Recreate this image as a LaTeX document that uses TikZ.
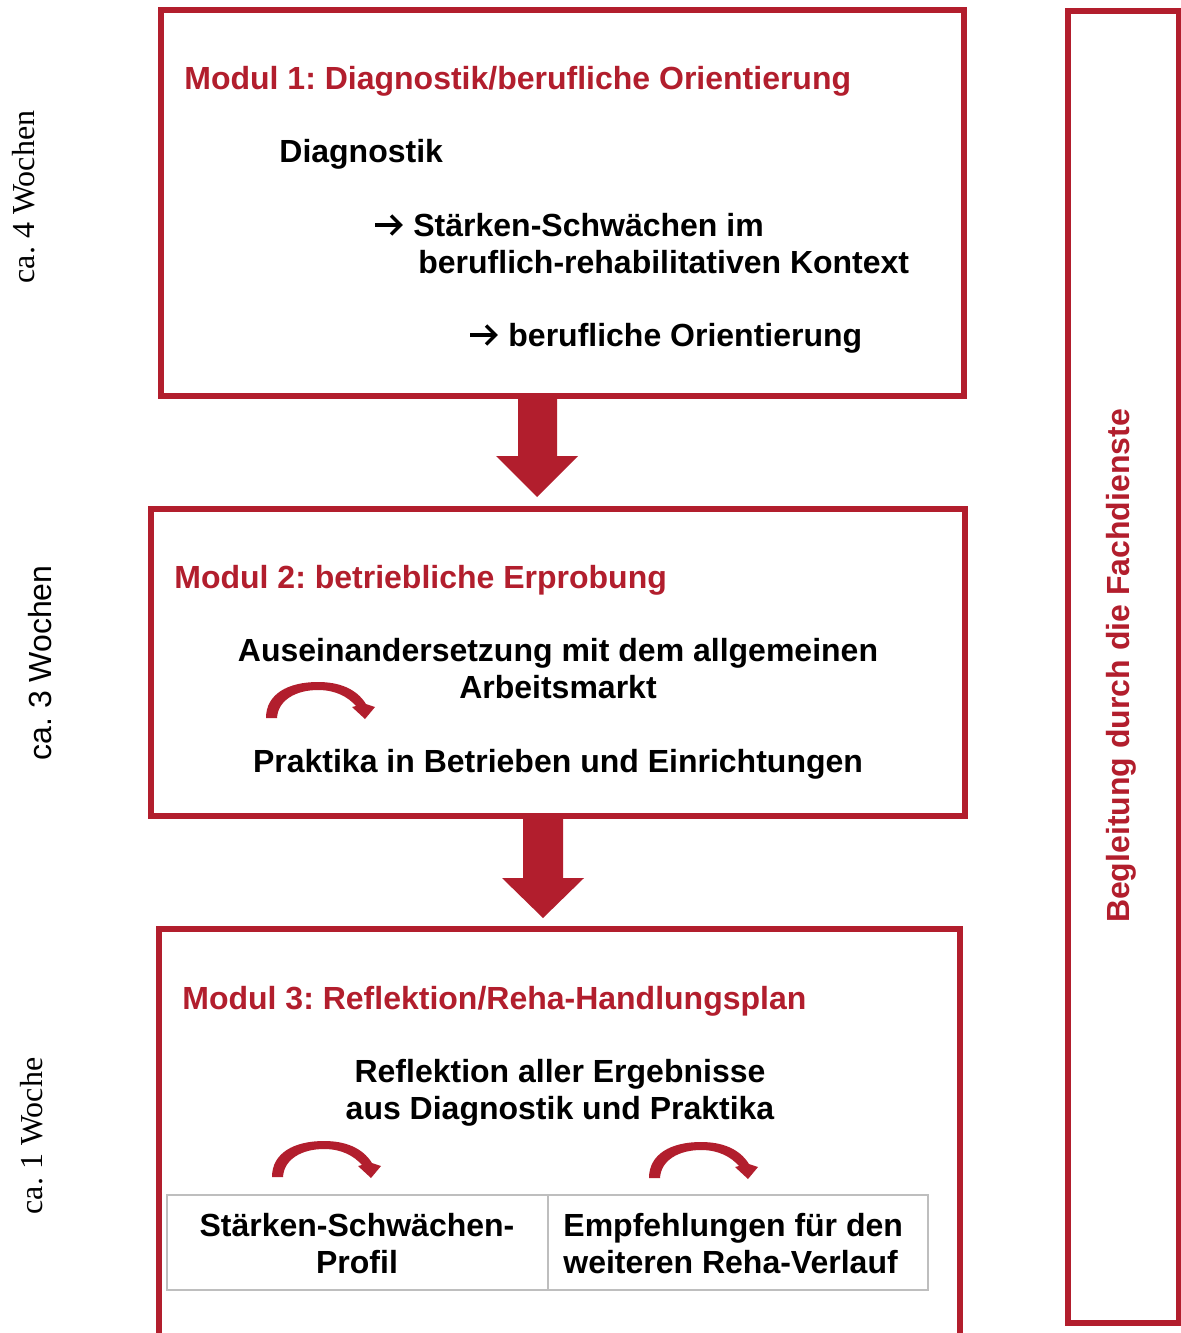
\documentclass[tikz,border=0pt]{standalone}
\usepackage{fontspec}
\setmainfont{Liberation Sans}
\newfontfamily\serifLS{Liberation Serif}
\definecolor{myred}{RGB}{178,30,45}
\definecolor{tabgray}{RGB}{190,190,190}
\frenchspacing
\begin{document}
\begin{tikzpicture}[x=0.5pt,y=-0.5pt,
  redbox/.style={draw=myred, line width=3pt},
  titletext/.style={font=\bfseries\fontsize{16}{18.5}\selectfont, text=myred, anchor=base west, inner sep=0pt},
  bodytext/.style={font=\bfseries\fontsize{16}{18.5}\selectfont, inner sep=0pt},
  sidelabel/.style={rotate=90, inner sep=0pt, font=\fontsize{16}{18.5}\selectfont},
  blockarrow/.style={fill=myred},
  textarrow/.pic={\draw[line width=1.7pt] (0,0) -- (25,0); \draw[line width=1.7pt, line join=miter] (16,-9.5) -- (25.5,0) -- (16,9.5);},
  curvarrow/.pic={\fill[myred] (0,0) -- (11,0) .. controls (12,-18) and (30,-28) .. (52,-28) .. controls (70,-28) and (82,-21) .. (90,-12) -- (86,-11) -- (99,1) -- (109,-11) -- (100,-14) .. controls (90,-30) and (72,-36) .. (52,-36) .. controls (22,-36) and (0,-24) .. (0,0) -- cycle;}
]
\clip (0,0) rectangle (1181,1333);
\fill[white] (0,0) rectangle (1181,1333);

% boxes
\draw[redbox] (161,10) rectangle (963.5,395.5);
\draw[redbox] (151,508.5) rectangle (965,816);
\draw[redbox] (159,929) rectangle (960,1336);
\draw[redbox] (1068,11) rectangle (1179,1323);

% block arrows
\fill[blockarrow] (518,393) -- (557,393) -- (557,456) -- (578,456) -- (537,497) -- (496,456) -- (518,456) -- cycle;
\fill[blockarrow] (523,815) -- (563,815) -- (563,878) -- (584,878) -- (543,918) -- (502,878) -- (523,878) -- cycle;

% Module 1
\node[titletext] (t1) at (184,89) {Modul 1: Diagnostik/berufliche Orientierung};
\node[bodytext, anchor=base west] (d1) at (279,162) {Diagnostik};
\pic at (375,225) {textarrow};
\node[bodytext, anchor=base west] (d2) at (413,236) {Stärken-Schwächen im};
\node[bodytext, anchor=base west] (d3) at (418,273) {beruflich-rehabilitativen Kontext};
\pic at (470,335) {textarrow};
\node[bodytext, anchor=base west] (d4) at (508,346) {berufliche Orientierung};

% Module 2
\node[titletext] (t2) at (174,588) {Modul 2: betriebliche Erprobung};
\node[bodytext, anchor=base] (e1) at (558,661) {Auseinandersetzung mit dem allgemeinen};
\node[bodytext, anchor=base] (e2) at (558,698) {Arbeitsmarkt};
\node[bodytext, anchor=base] (e3) at (558,772) {Praktika in Betrieben und Einrichtungen};
\pic at (266,718) {curvarrow};

% Module 3
\node[titletext] (t3) at (182,1009) {Modul 3: Reflektion/Reha-Handlungsplan};
\node[bodytext, anchor=base] (r1) at (560,1082) {Reflektion aller Ergebnisse};
\node[bodytext, anchor=base] (r2) at (560,1119) {aus Diagnostik und Praktika};
\pic at (272,1177) {curvarrow};
\pic at (649,1178) {curvarrow};

% table
\draw[tabgray, line width=1pt] (167,1195) rectangle (928,1290);
\draw[tabgray, line width=1pt] (548,1195) -- (548,1290);
\node[bodytext, anchor=base] (c1) at (357,1236) {Stärken-Schwächen-};
\node[bodytext, anchor=base] (c2) at (357,1273) {Profil};
\node[bodytext, anchor=base west] (c3) at (563,1236) {Empfehlungen für den};
\node[bodytext, anchor=base west] (c4) at (563,1273) {weiteren Reha-Verlauf};

% side labels
\node[sidelabel, font=\serifLS\fontsize{16}{18.5}\selectfont] (w1) at (24,197) {ca. 4 Wochen};
\node[sidelabel] (w2) at (40,663) {ca. 3 Wochen};
\node[sidelabel, font=\serifLS\fontsize{16}{18.5}\selectfont] (w3) at (32,1136) {ca. 1 Woche};
\node[sidelabel, font=\bfseries\fontsize{16}{18.5}\selectfont, text=myred] (b1) at (1121,666) {Begleitung durch die Fachdienste};
\end{tikzpicture}
\end{document}
